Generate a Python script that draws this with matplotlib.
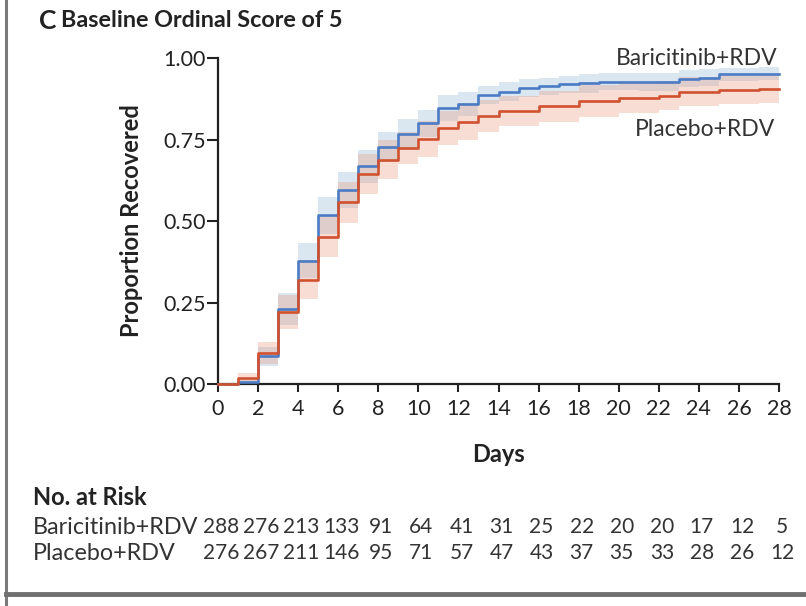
import matplotlib
matplotlib.use('Agg')
import matplotlib.pyplot as plt
from matplotlib.lines import Line2D
from matplotlib.transforms import blended_transform_factory

plt.rcParams['font.family'] = ['Lato', 'DejaVu Sans']

# Kaplan-Meier style cumulative recovery, value held from each day to the next
days = list(range(0, 29))
bari = [0, 0.005, 0.085, 0.23, 0.378, 0.517, 0.595, 0.668, 0.727, 0.767, 0.80,
        0.848, 0.86, 0.886, 0.897, 0.907, 0.914, 0.919, 0.922, 0.927, 0.927,
        0.927, 0.927, 0.937, 0.94, 0.95, 0.95, 0.951, 0.951]
bari_lo = [0, 0, 0.055, 0.182, 0.324, 0.461, 0.54, 0.617, 0.68, 0.722, 0.758,
           0.808, 0.823, 0.858, 0.869, 0.879, 0.888, 0.893, 0.894, 0.901, 0.901,
           0.899, 0.899, 0.912, 0.915, 0.93, 0.93, 0.931, 0.931]
bari_hi = [0, 0.02, 0.115, 0.278, 0.432, 0.573, 0.65, 0.719, 0.774, 0.812, 0.842,
           0.888, 0.897, 0.914, 0.925, 0.935, 0.94, 0.945, 0.95, 0.953, 0.953,
           0.955, 0.955, 0.962, 0.965, 0.97, 0.97, 0.971, 0.971]
plac = [0, 0.018, 0.094, 0.22, 0.32, 0.452, 0.557, 0.643, 0.688, 0.725, 0.752,
        0.785, 0.805, 0.822, 0.836, 0.836, 0.852, 0.852, 0.868, 0.868, 0.878,
        0.878, 0.884, 0.897, 0.897, 0.902, 0.902, 0.905, 0.905]
plac_lo = [0, 0.003, 0.06, 0.168, 0.26, 0.39, 0.493, 0.582, 0.628, 0.676, 0.696,
           0.732, 0.748, 0.774, 0.79, 0.79, 0.805, 0.805, 0.82, 0.82, 0.832,
           0.832, 0.84, 0.853, 0.853, 0.858, 0.858, 0.862, 0.862]
plac_hi = [0, 0.033, 0.128, 0.272, 0.38, 0.514, 0.621, 0.704, 0.748, 0.774, 0.808,
           0.838, 0.862, 0.87, 0.882, 0.882, 0.899, 0.899, 0.916, 0.916, 0.924,
           0.924, 0.928, 0.941, 0.941, 0.946, 0.946, 0.948, 0.948]

risk_days = list(range(0, 29, 2))
bari_risk = [288, 276, 213, 133, 91, 64, 41, 31, 25, 22, 20, 20, 17, 12, 5]
plac_risk = [276, 267, 211, 146, 95, 71, 57, 47, 43, 37, 35, 33, 28, 26, 12]

blue = '#4a7bc4'
red = '#d0512f'
ink = '#222222'

fig = plt.figure(figsize=(8.06, 6.06), dpi=100)
ax = fig.add_axes([0.2705, 0.3663, 0.6960, 0.5380])

ax.fill_between(days, bari_lo, bari_hi, step='post', color='#9fc0d8',
                alpha=0.38, linewidth=0)
ax.fill_between(days, plac_lo, plac_hi, step='post', color='#eb9f88',
                alpha=0.35, linewidth=0)
ax.step(days, bari, where='post', color=blue, lw=1.9, zorder=3, clip_on=False)
ax.step(days, plac, where='post', color=red, lw=1.9, zorder=4, clip_on=False)

ax.set_xlim(0, 28)
ax.set_ylim(0, 1)
ax.set_xticks(range(0, 29, 2))
ax.set_yticks([0, 0.25, 0.5, 0.75, 1.0])
ax.set_yticklabels(['0.00', '0.25', '0.50', '0.75', '1.00'])
for s in ['top', 'right']:
    ax.spines[s].set_visible(False)
for s in ['left', 'bottom']:
    ax.spines[s].set_linewidth(1.6)
    ax.spines[s].set_color(ink)
ax.tick_params(axis='y', length=8, width=1.5, labelsize=15.5, pad=1,
               color=ink, labelcolor=ink)
ax.tick_params(axis='x', length=6, width=1.5, labelsize=15.5, pad=5,
               color=ink, labelcolor=ink)
ax.set_ylabel('Proportion Recovered', fontsize=17, fontweight='bold',
              labelpad=14, color=ink)
ax.set_xlabel('Days', fontsize=17, fontweight='bold', labelpad=17, color=ink)

ax.text(27.95, 0.965, 'Baricitinib+RDV', ha='right', va='bottom',
        fontsize=16.5, color='#333333')
ax.text(27.8, 0.75, 'Placebo+RDV', ha='right', va='bottom',
        fontsize=16.5, color='#333333')

fig.text(0.048, 0.966, 'C', fontsize=19, fontweight='bold', color=ink,
         va='center')
fig.text(0.0755, 0.966, 'Baseline Ordinal Score of 5', fontsize=16.8,
         fontweight='bold', color=ink, va='center')

# number at risk table under the x axis
fig.text(0.041, 0.179, 'No. at Risk', fontsize=17, fontweight='bold',
         color=ink, va='center')
fig.text(0.041, 0.130, 'Baricitinib+RDV', fontsize=16.8, color='#333333',
         va='center')
fig.text(0.041, 0.087, 'Placebo+RDV', fontsize=16.8, color='#333333',
         va='center')
tr = blended_transform_factory(ax.transData, fig.transFigure)
for d, b, p in zip(risk_days, bari_risk, plac_risk):
    ax.text(d + 0.15, 0.130, str(b), transform=tr, ha='center', va='center',
            fontsize=15, color='#333333', clip_on=False)
    ax.text(d + 0.15, 0.087, str(p), transform=tr, ha='center', va='center',
            fontsize=15, color='#333333', clip_on=False)

# panel frame lines
fig.add_artist(Line2D([0.0075, 0.0075], [0, 1], transform=fig.transFigure,
                      color='#7a7a7a', lw=2.2))
fig.add_artist(Line2D([0.0075, 1], [0.0195, 0.0195], transform=fig.transFigure,
                      color='#6f6f6f', lw=3.5))

fig.savefig('out.png', dpi=100)
